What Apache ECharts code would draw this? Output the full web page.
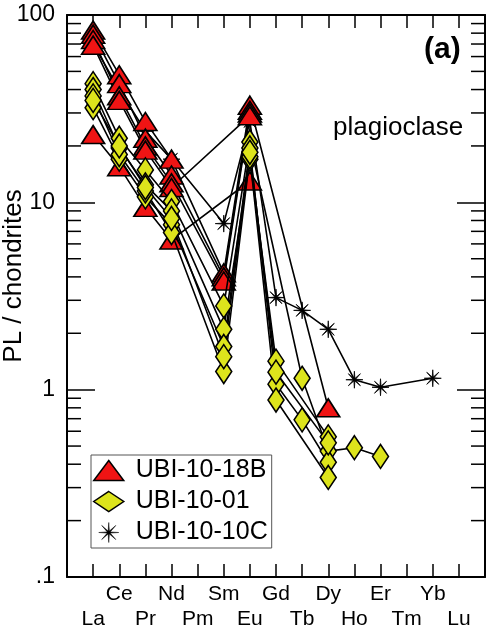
<!DOCTYPE html>
<html>
<head>
<meta charset="utf-8">
<script src="https://cdn.jsdelivr.net/npm/echarts@6/dist/echarts.min.js"></script>
<style>
html,body{margin:0;padding:0;background:#fff;}
#c{width:488px;height:634px;}
</style>
</head>
<body>
<div id="c"></div>
<script>
// ---- data ----
const elements = ['La','Ce','Pr','Nd','Pm','Sm','Eu','Gd','Tb','Dy','Ho','Er','Tm','Yb','Lu'];
const yTickLabels = {0.1: '.1', 1: '1', 10: '10', 100: '100'};

// UBI-10-18B (red triangles)  La   Ce   Pr   Nd   Pm    Sm    Eu   Gd    Tb    Dy   Ho    Er    Tm    Yb    Lu
const red_1 = [83, 48, 27, 17, null, 4.2, 33, null, null, 0.8, null, null, null, null, null];
const red_2 = [79, 43, 22, 14, null, 4.0, 31, null, null, null, null, null, null, null, null];
const red_3 = [74, 37, 20, 12.7, null, 3.8, 30, null, null, null, null, null, null, null, null];
const red_4 = [69, 35, 19, 12, null, null, 29, null, null, null, null, null, null, null, null];
const red_5 = [23, 15.5, 9.4, 6.3, null, null, 13, null, null, null, null, null, null, null, null];

// UBI-10-01 (yellow diamonds)
const yel_1 = [43, 22, 14.9, 10.1, null, 2.8, 21, null, 1.15, 0.47, 0.49, 0.44, null, null, null];
const yel_2 = [40, 19.5, 12.4, 9.0, null, 2.1, 17, 1.42, null, 0.56, null, null, null, null, null];
const yel_3 = [32, 17, 10.7, 7.6, null, 1.7, 19.5, 1.07, 0.69, 0.41, null, null, null, null, null];
const yel_4 = [37, 18, 11.5, 6.9, null, 1.25, 17.5, 0.88, null, 0.34, null, null, null, null, null];
const yel_5 = [35, 20, 12, 8.2, null, 1.5, 18.5, 1.24, null, 0.52, null, null, null, null, null];

// UBI-10-10C (asterisks)
const ast_1 = [70, 40, 24, 17, null, 7.7, 27, 3.1, 2.65, 2.1, 1.13, 1.03, null, 1.15, null];

const minorTickValues = [];
[0.1, 1, 10].forEach(d => { for (let k = 2; k <= 9; k++) minorTickValues.push(+(d * k).toFixed(3)); });

// ---- helpers ----
function pts(arr) {
  const out = [];
  arr.forEach((v, i) => { if (v !== null) out.push([i, v]); });
  return out;
}
function asteriskPath() {
  let d = '';
  const n = 8, R = 10, r = 1.6;
  for (let i = 0; i < n * 2; i++) {
    const a = Math.PI * i / n - Math.PI / 2;
    const rad = (i % 2 === 0) ? R : r;
    const x = 10 + rad * Math.cos(a), y = 10 + rad * Math.sin(a);
    d += (i === 0 ? 'M' : 'L') + x.toFixed(2) + ' ' + y.toFixed(2) + ' ';
  }
  return 'path://' + d + 'Z';
}
const AST = asteriskPath();
const FONT = 'Liberation Sans';
const RED = '#f01414';
const YEL = '#dde41c';

function lineSeries(name, arr, symbol, size, color, z) {
  return {
    name: name, type: 'line', data: pts(arr), symbol: symbol, symbolSize: size,
    lineStyle: {color: '#000', width: 1.6},
    itemStyle: {color: color, borderColor: '#000', borderWidth: symbol === AST ? 0.8 : 1.6},
    z: z, animation: false, xAxisIndex: 0, yAxisIndex: 0
  };
}

const series = [];
series.push(lineSeries('UBI-10-10C', ast_1, AST, 17, '#000', 2));
[red_1, red_2, red_3, red_4, red_5].forEach(a => series.push(lineSeries('UBI-10-18B', a, 'triangle', [23, 18], RED, 3)));
[yel_1, yel_2, yel_3, yel_4, yel_5].forEach(a => series.push(lineSeries('UBI-10-01', a, 'diamond', [16, 24], YEL, 4)));

// minor ticks on log axis (left and right, inside)
series.push({
  type: 'custom', silent: true, animation: false, xAxisIndex: 0, yAxisIndex: 0, z: 10,
  data: minorTickValues.map(v => [-1, v]),
  renderItem: function (params, api) {
    const v = api.value(1);
    const l = api.coord([-1, v]);
    const r = api.coord([15, v]);
    return {type: 'group', children: [
      {type: 'line', shape: {x1: l[0], y1: l[1], x2: l[0] + 14, y2: l[1]}, style: {stroke: '#000', lineWidth: 1.5}},
      {type: 'line', shape: {x1: r[0], y1: r[1], x2: r[0] - 14, y2: r[1]}, style: {stroke: '#000', lineWidth: 1.5}}
    ]};
  }
});

const chart = echarts.init(document.getElementById('c'), null, {renderer: 'canvas'});
chart.setOption({
  animation: false,
  backgroundColor: '#fff',
  textStyle: {fontFamily: FONT},
  grid: {left: 67, right: 3, top: 15, bottom: 57, containLabel: false, outerBoundsMode: 'none'},
  xAxis: [{
    type: 'value', min: -1, max: 15, interval: 1, position: 'bottom',
    axisLine: {show: true, onZero: false, lineStyle: {color: '#000', width: 2}},
    axisTick: {show: true, inside: true, length: 13, lineStyle: {color: '#000', width: 1.5}},
    splitLine: {show: false},
    axisLabel: {
      show: true, margin: 5, color: '#000', fontSize: 21, fontFamily: FONT, lineHeight: 25,
      formatter: function (v) {
        if (v < 0 || v > 14) return '';
        const n = elements[v];
        return (v % 2 === 1) ? (n + '\n ') : (' \n' + n);
      }
    }
  }, {
    type: 'value', min: -1, max: 15, interval: 1, position: 'top',
    axisLine: {show: true, onZero: false, lineStyle: {color: '#000', width: 2}},
    axisTick: {show: true, inside: true, length: 13, lineStyle: {color: '#000', width: 1.5}},
    splitLine: {show: false}, axisLabel: {show: false}
  }],
  yAxis: [{
    type: 'log', logBase: 10, min: 0.1, max: 100, position: 'left',
    name: 'PL / chondrites', nameLocation: 'middle', nameRotate: 90, nameGap: 40,
    nameMoveOverlap: false,
    nameTextStyle: {color: '#000', fontSize: 26, fontFamily: FONT, padding: [0, 0, 0, 40]},
    axisLine: {show: true, onZero: false, lineStyle: {color: '#000', width: 2}},
    axisTick: {show: true, inside: true, length: 28, lineStyle: {color: '#000', width: 1.5}},
    minorTick: {show: false},
    splitLine: {show: false},
    axisLabel: {color: '#000', fontSize: 23, fontFamily: FONT, margin: 12,
      formatter: function (v) { const k = +(+v).toPrecision(3); return yTickLabels[k] !== undefined ? yTickLabels[k] : ''; }}
  }, {
    type: 'log', logBase: 10, min: 0.1, max: 100, position: 'right',
    axisLine: {show: true, onZero: false, lineStyle: {color: '#000', width: 2}},
    axisTick: {show: true, inside: true, length: 28, lineStyle: {color: '#000', width: 1.5}},
    splitLine: {show: false}, axisLabel: {show: false}
  }],
  legend: {
    show: true, orient: 'vertical', left: 91, top: 455,
    padding: [3, 4, 3, 2], itemGap: 6, itemWidth: 30, itemHeight: 20,
    borderColor: '#555', borderWidth: 1, backgroundColor: '#fff',
    textStyle: {fontSize: 25, color: '#000', fontFamily: FONT},
    formatter: function (n) { return ' ' + n; },
    data: [
      {name: 'UBI-10-18B', icon: 'triangle', itemStyle: {color: RED, borderColor: '#000', borderWidth: 1.5}},
      {name: 'UBI-10-01', icon: 'diamond', itemStyle: {color: YEL, borderColor: '#000', borderWidth: 1.5}},
      {name: 'UBI-10-10C', icon: AST, itemStyle: {color: '#000', borderColor: '#000', borderWidth: 0.5}}
    ]
  },
  graphic: [
    {type: 'text', left: 424, top: 35, style: {text: '(a)', fontSize: 30, fontWeight: 'bold', fill: '#000', fontFamily: FONT}},
    {type: 'text', left: 333, top: 115, style: {text: 'plagioclase', fontSize: 26, fill: '#000', fontFamily: FONT}}
  ],
  series: series
});
</script>
</body>
</html>
